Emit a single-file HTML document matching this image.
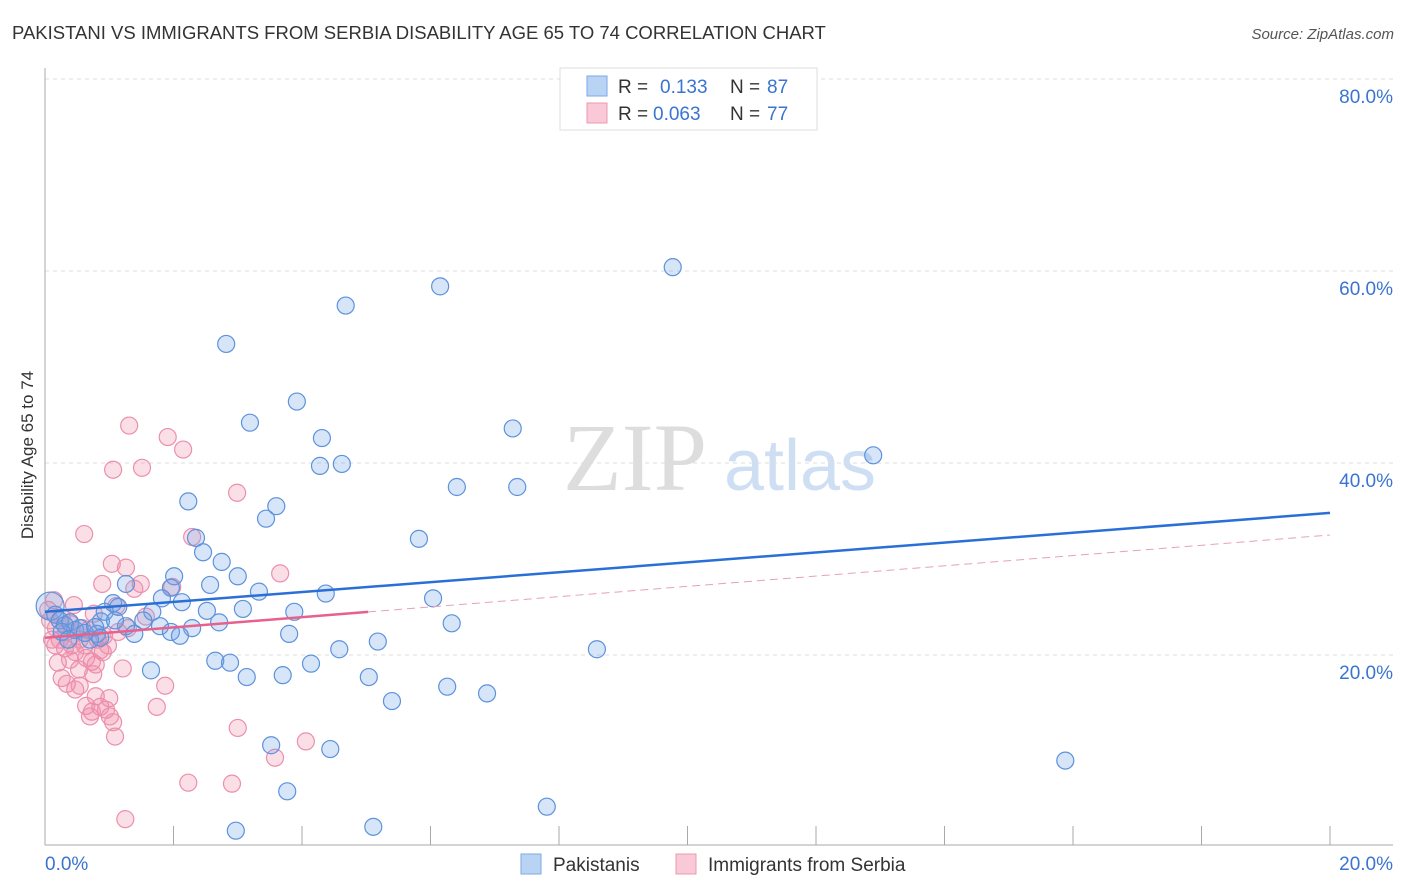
<!DOCTYPE html>
<html><head><meta charset="utf-8"><style>
body{margin:0;background:#fff;width:1406px;height:892px;overflow:hidden;font-family:"Liberation Sans",sans-serif}
svg{position:absolute;left:0;top:0}
</style></head><body>
<svg id="c" width="1406" height="892" xmlns="http://www.w3.org/2000/svg">
<text x="12" y="39" font-size="18.5" fill="#333">PAKISTANI VS IMMIGRANTS FROM SERBIA DISABILITY AGE 65 TO 74 CORRELATION CHART</text>
<text x="1394" y="39" font-size="15" fill="#555" font-style="italic" text-anchor="end">Source: ZipAtlas.com</text>
<text x="33" y="455" font-size="17" fill="#333" text-anchor="middle" transform="rotate(-90 33 455)">Disability Age 65 to 74</text>
<g><text x="635" y="490" font-size="96" fill="#ddd" font-family="Liberation Serif,serif" text-anchor="middle">ZIP</text><text x="800" y="490" font-size="72" fill="#cfdff3" text-anchor="middle">atlas</text></g>
<g id="grid"></g><g id="marks"></g>
<g>
<rect x="560" y="68" width="257" height="62" fill="#fff" stroke="#ddd"/>
<rect x="587" y="76" width="20" height="20" fill="#b9d3f5" stroke="#7aa8e8"/>
<rect x="587" y="103" width="20" height="20" fill="#f9c9d7" stroke="#ec98b3"/>
<text x="618" y="93" font-size="19" fill="#333">R = </text><text x="660" y="93" font-size="19" fill="#3a74d0">0.133</text><text x="730" y="93" font-size="19" fill="#333">N = </text><text x="767" y="93" font-size="19" fill="#3a74d0">87</text>
<text x="618" y="120" font-size="19" fill="#333">R = </text><text x="653" y="120" font-size="19" fill="#3a74d0">0.063</text><text x="730" y="120" font-size="19" fill="#333">N = </text><text x="767" y="120" font-size="19" fill="#3a74d0">77</text>
</g>
<g>
<rect x="521" y="854" width="20" height="20" fill="#b9d3f5" stroke="#7aa8e8"/><text x="553" y="871" font-size="19" fill="#333">Pakistanis</text>
<rect x="676" y="854" width="20" height="20" fill="#f9c9d7" stroke="#ec98b3"/><text x="708" y="871" font-size="19" fill="#333">Immigrants from Serbia</text>
</g>
</svg>
<script>
const yTicks=[20,40,60,80];
const xTickLabels=["0.0%","20.0%"];
const blueX=[9.77,6.15,4.68,2.82,3.92,3.19,4.31,7.28,12.89,4.28,4.62,6.41,7.35,2.23,3.60,3.44,2.35,2.46,5.82,2.75,3.00,2.01,1.26,1.96,2.57,3.33,4.37,6.04,1.82,2.13,1.06,2.52,3.88,3.08,1.14,1.67,1.53,1.79,2.71,0.87,1.26,1.96,2.29,2.10,1.39,6.33,3.80,5.18,0.81,0.70,8.59,4.58,2.65,2.88,1.65,4.14,3.14,3.70,5.04,6.26,6.88,5.40,3.52,4.44,15.88,3.77,7.81,2.97,5.11,0.08,0.16,0.23,0.31,0.39,0.47,0.54,0.62,0.78,0.86,0.26,0.36,0.93,1.09];
const blueY=[60.4,58.4,56.4,52.4,46.4,44.2,42.6,43.6,40.8,39.7,39.9,37.5,37.5,36.0,35.5,34.2,32.2,30.7,32.1,29.7,28.2,28.2,27.4,27.0,27.3,26.6,26.4,25.9,25.9,25.5,25.4,24.6,24.5,24.8,25.0,24.5,23.6,23.0,23.4,23.5,23.0,22.4,22.8,22.0,22.2,23.3,22.2,21.4,22.2,21.6,20.6,20.6,19.4,19.2,18.4,19.1,17.7,17.9,17.7,16.7,16.0,15.2,10.6,10.2,9.0,5.8,4.2,1.7,2.1,25.1,24.2,23.6,23.1,23.4,22.6,22.8,22.3,22.9,21.8,22.4,21.6,24.5,23.6];
const pinkX=[1.31,1.91,2.15,1.06,1.51,0.61,2.99,2.29,3.66,1.04,1.26,0.89,1.49,1.39,1.98,1.11,1.57,0.76,0.92,0.58,0.40,0.23,0.16,0.31,0.47,0.62,0.86,0.20,0.39,0.73,0.79,0.53,1.21,0.90,0.75,0.26,0.34,0.47,0.54,1.87,0.79,1.00,0.64,0.73,0.86,0.95,1.01,1.06,0.70,1.74,1.09,3.00,3.58,4.06,2.23,2.91,1.25,0.08,0.11,0.17,0.26,0.33,0.42,0.67,0.82,0.98,1.14,1.29,0.45,0.54,0.64,0.05,0.14];
const pinkY=[43.9,42.7,41.4,39.3,39.5,32.6,36.9,32.3,28.5,29.5,29.1,27.4,27.4,26.9,27.1,25.1,24.0,24.3,22.0,22.8,23.2,21.6,21.0,20.7,20.3,21.0,20.5,19.2,19.5,19.3,19.0,18.5,18.6,20.3,18.0,17.6,17.0,16.4,16.8,16.8,15.7,15.5,14.7,14.1,14.6,14.3,13.6,13.0,13.6,14.6,11.5,12.4,9.3,11.0,6.7,6.6,2.9,23.6,21.6,22.8,23.9,22.4,21.0,22.6,21.6,21.0,22.4,22.8,25.2,21.6,19.7,24.7,25.7];
const blueTrend=[24.5,34.8];
const pinkTrend=[21.8,32.5];
const pinkSolidEnd=5.03;

const NS="http://www.w3.org/2000/svg";
const sx=v=>45+v/20*1285, sy=v=>847-v*9.6;
function mk(p,t,a){const e=document.createElementNS(NS,t);for(const k in a)e.setAttribute(k,a[k]);p.appendChild(e);return e;}
const g=document.getElementById('grid'),m=document.getElementById('marks');
yTicks.forEach(t=>{
 const l=mk(g,'line',{x1:45,x2:1393,y1:sy(t),y2:sy(t),stroke:'#ddd','stroke-dasharray':'4,4'});
 
 
 const tx=mk(g,'text',{x:1393,y:sy(t)+24,'font-size':19,fill:'#3a74d0','text-anchor':'end'});tx.textContent=t.toFixed(1)+'%';
 
 
});
mk(g,'line',{x1:45,x2:45,y1:68,y2:845,stroke:'#aaa'});
mk(g,'line',{x1:45,x2:1393,y1:845,y2:845,stroke:'#aaa'});
for(let i=1;i<=10;i++){mk(g,'line',{x1:sx(i*2),x2:sx(i*2),y1:826,y2:845,stroke:'#aaa'});}
xTickLabels.forEach((s,i)=>{const tx=mk(g,'text',{x:i?1393:45,y:870,'font-size':19,fill:'#3a74d0','text-anchor':i?'end':'start'});tx.textContent=s;
 
 });
function dots(xs,ys,fill,stroke,name){xs.forEach((x,i)=>{
 const c=mk(m,'circle',{cx:sx(x),cy:sy(ys[i]),r:(name=='pakistani-point'&&i==69)?14:8.5,fill:fill,stroke:stroke,'stroke-width':1.2});
 
 
});}
dots(pinkX,pinkY,'rgba(242,140,170,0.28)','#ec8fae','serbia-point');
dots(blueX,blueY,'rgba(110,160,230,0.28)','#5d92dc','pakistani-point');
const bl=mk(m,'line',{x1:sx(0),y1:sy(blueTrend[0]),x2:sx(20),y2:sy(blueTrend[1]),stroke:'#2a6fd6','stroke-width':2.5});


const pe=pinkTrend[0]+(pinkTrend[1]-pinkTrend[0])*pinkSolidEnd/20;
const pl=mk(m,'line',{x1:sx(0),y1:sy(pinkTrend[0]),x2:sx(pinkSolidEnd),y2:sy(pe),stroke:'#e8608c','stroke-width':2.5});


const pd=mk(m,'line',{x1:sx(pinkSolidEnd),y1:sy(pe),x2:sx(20),y2:sy(pinkTrend[1]),stroke:'#e8a0b8','stroke-width':1,'stroke-dasharray':'8,5'});


</script>
</body></html>
